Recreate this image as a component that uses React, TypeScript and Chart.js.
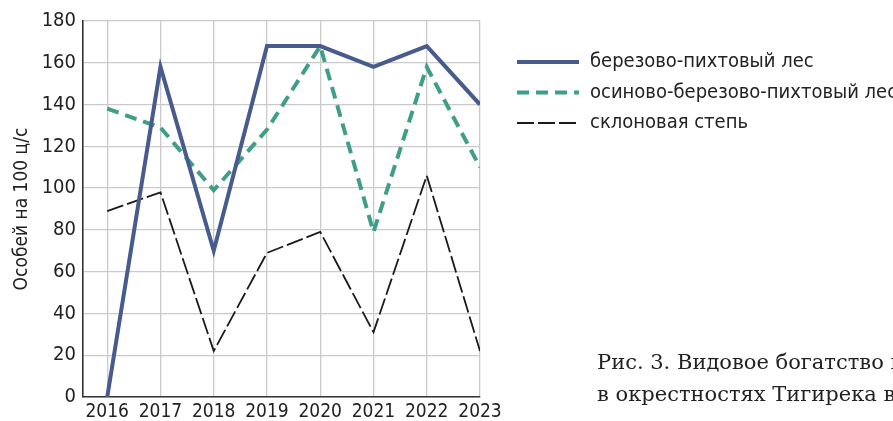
import React, { useEffect, useRef } from "react";
import { Chart, registerables } from "chart.js";
Chart.register(...registerables);

const years = [2016, 2017, 2018, 2019, 2020, 2021, 2022, 2023];
const birchFir = [0, 158, 70, 168, 168, 158, 168, 140];
const aspenBirchFir = [138, 129, 99, 128, 168, 79, 158, 110];
const steppe = [89, 98, 22, 69, 79, 31, 106, 22];
const seriesNames = [
  "березово-пихтовый лес",
  "осиново-березово-пихтовый лес",
  "склоновая степь",
];
const yTicks = [0, 20, 40, 60, 80, 100, 120, 140, 160, 180];
const yTitle = "Особей на 100 ц/с";
const captionLines = ["Рис. 3. Видовое богатство и", "в окрестностях Тигирека в"];

const NARROW = "'Liberation Sans Narrow', 'DejaVu Sans Condensed', sans-serif";
const LEGEND_FONT = "'Liberation Sans Narrow', 'DejaVu Sans Condensed', sans-serif";

const overlayPlugin = {
  id: "overlay",
  afterDraw(chart: any) {
    const ctx = chart.ctx as CanvasRenderingContext2D;
    ctx.save();
    chart.data.datasets.forEach((ds: any, i: number) => {
      const y = 62 + i * 30.5;
      ctx.beginPath();
      ctx.strokeStyle = ds.borderColor;
      ctx.lineWidth = ds.borderWidth;
      ctx.setLineDash(ds.borderDash || []);
      ctx.lineCap = "butt";
      ctx.moveTo(517, y);
      ctx.lineTo(579, y);
      ctx.stroke();
      ctx.setLineDash([]);
      ctx.fillStyle = "#222";
      ctx.font = `20px ${LEGEND_FONT}`;
      ctx.textBaseline = "middle";
      ctx.textAlign = "left";
      ctx.fillText(ds.label, 590, y);
    });
    ctx.font = "21px 'DejaVu Serif', serif";
    ctx.textBaseline = "alphabetic";
    ctx.fillStyle = "#222";
    captionLines.forEach((l, i) => ctx.fillText(l, 597, 369 + i * 32));
    ctx.restore();
  },
};

export default function App() {
  const ref = useRef<HTMLCanvasElement>(null);
  useEffect(() => {
    document.body.style.margin = "0";
    const pts = (vals: number[]) => years.map((x, i) => ({ x, y: vals[i] }));
    const chart = new Chart(ref.current!, {
      type: "line",
      data: {
        datasets: [
          {
            label: seriesNames[0],
            data: pts(birchFir),
            borderColor: "#475b8c",
            borderWidth: 4,
            pointRadius: 0,
            tension: 0,
          },
          {
            label: seriesNames[1],
            data: pts(aspenBirchFir),
            borderColor: "#3f9e88",
            borderWidth: 4,
            borderDash: [12, 7],
            pointRadius: 0,
            tension: 0,
          },
          {
            label: seriesNames[2],
            data: pts(steppe),
            borderColor: "#1a1a1a",
            borderWidth: 1.8,
            borderDash: [17, 4],
            pointRadius: 0,
            tension: 0,
          },
        ],
      },
      options: {
        animation: false,
        responsive: true,
        maintainAspectRatio: false,
        layout: { padding: { top: 21, right: 413, left: 0, bottom: 0 } },
        plugins: { legend: { display: false }, tooltip: { enabled: false } },
        scales: {
          x: {
            type: "linear",
            min: 2015.545,
            max: 2023,
            afterBuildTicks: (s: any) => {
              s.ticks = years.map((v) => ({ value: v }));
            },
            afterFit: (s: any) => {
              s.height = 24;
            },
            grid: { color: "#cacaca", lineWidth: 1.3, drawTicks: false },
            border: { color: "#333", width: 1.6 },
            ticks: {
              padding: 4,
              color: "#222",
              font: { family: NARROW, size: 19 },
              callback: (v: any) => String(v),
              maxRotation: 0,
              autoSkip: false,
            },
          },
          y: {
            min: 0,
            max: 180,
            afterBuildTicks: (s: any) => {
              s.ticks = yTicks.map((v) => ({ value: v }));
            },
            afterFit: (s: any) => {
              s.width = 83;
            },
            grid: { color: "#cacaca", lineWidth: 1.3, drawTicks: false },
            border: { color: "#333", width: 1.6 },
            ticks: {
              padding: 7,
              color: "#222",
              font: { family: NARROW, size: 20 },
            },
            title: {
              display: true,
              text: yTitle,
              color: "#222",
              font: { family: NARROW, size: 19 },
              padding: { top: 11, bottom: 0 },
            },
          },
        },
      },
      plugins: [overlayPlugin],
    });
    return () => chart.destroy();
  }, []);
  return (
    <div style={{ position: "fixed", left: 0, top: 0, width: 893, height: 421 }}>
      <canvas ref={ref} />
    </div>
  );
}
